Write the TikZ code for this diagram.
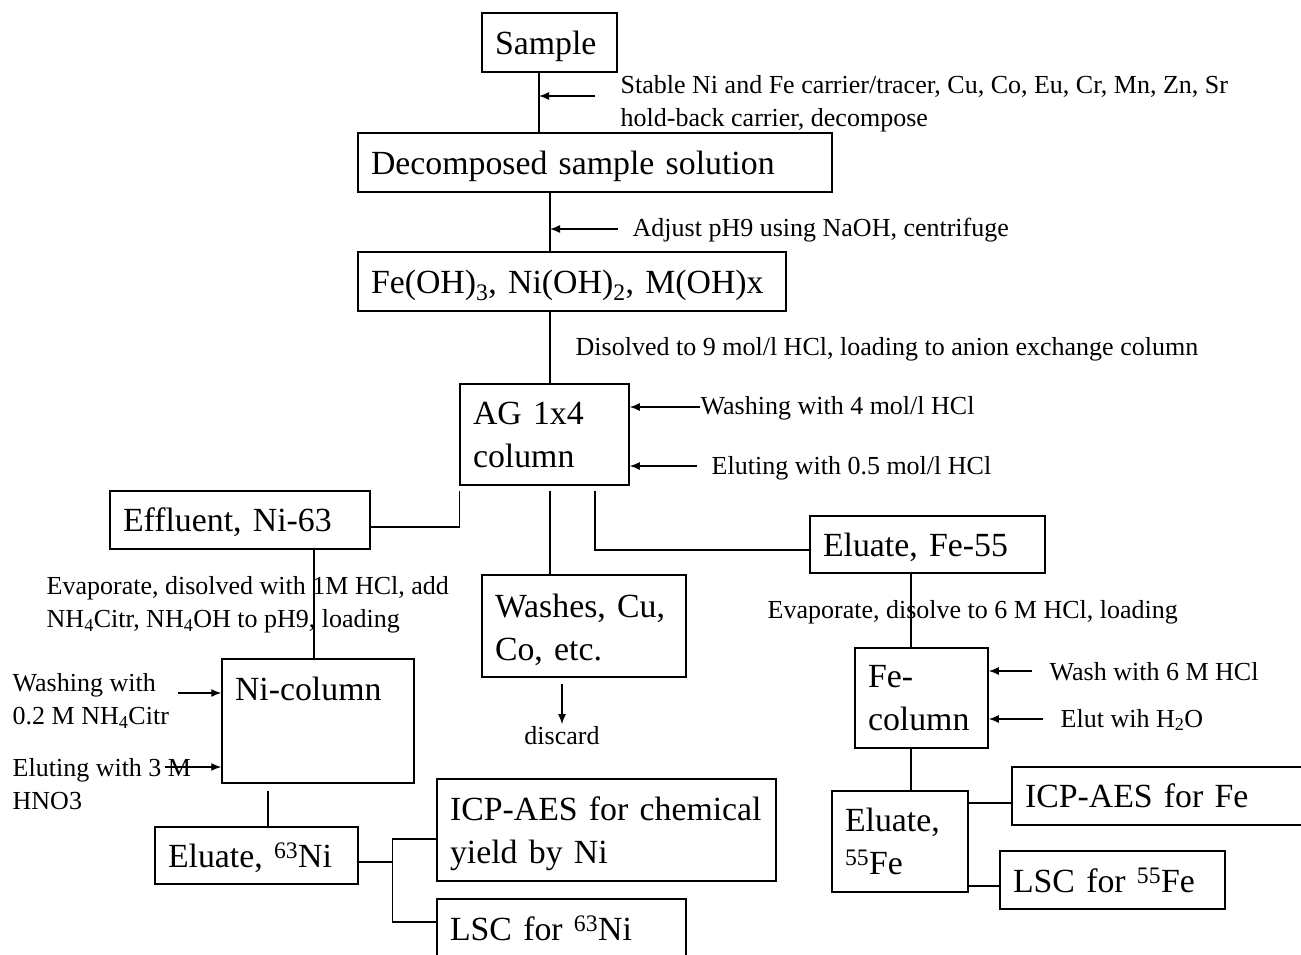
\documentclass[tikz,border=0pt]{standalone}
\usepackage{fontspec}
\setmainfont{Liberation Serif}
\usetikzlibrary{arrows.meta}
\newcommand\boxfont{\fontsize{33.8}{43}\selectfont}
\newcommand\notefont{\fontsize{26}{33}\selectfont}
\tikzset{
  box/.style={draw, line width=1.5pt, font=\boxfont, align=left, inner xsep=13pt, inner ysep=4pt},
  single/.style={text height=30.4pt, text depth=6.8pt},
  note/.style={font=\notefont, align=left, inner sep=0pt, anchor=west},
}
\begin{document}
\begin{tikzpicture}[x=1pt,y=-1pt,line width=1.4pt,>={Latex[length=10pt,width=8pt]}]
    \useasboundingbox (0,0) rectangle (1301,955);
    \clip (0,0) rectangle (1301,955);
    % main line
    \node[box, single, text width=109pt, minimum height=59pt] (sample) at (549.5,42.5) {Sample};
    \node[box, single, text width=448pt, minimum height=59pt] (decomp) at (595,162.5) {Decomposed sample solution};
    \node[box, single, text width=402pt, minimum height=59pt] (hydrox) at (572,281.5) {Fe(OH)\textsubscript{3}, Ni(OH)\textsubscript{2}, M(OH)x};
    \node[box, text width=143pt, minimum height=101pt] (ag) at (544.5,434.5) {AG 1x4\\column};
    \node[box, single, text width=234pt, minimum height=58pt] (effluent) at (240,520) {Effluent, Ni-63};
    \node[box, text width=178pt, minimum height=102pt, text depth=40pt] (washes) at (584,626) {Washes, Cu,\\Co, etc.};
    \node[box, single, text width=209pt, minimum height=57pt] (eluatefe) at (927.5,544.5) {Eluate, Fe-55};
    % Ni branch
    \node[box, text width=166pt, minimum height=124pt, text depth=65pt] (nicol) at (318,721) {Ni-column};
    \node[box, single, text width=177pt, minimum height=57pt] (elni) at (256.5,855.5) {Eluate, \textsuperscript{63}Ni};
    \node[box, text width=313pt, minimum height=102pt, text depth=42pt] (icpni) at (606.5,830) {ICP-AES for chemical\\yield by Ni};
    \node[box, text width=223pt, minimum height=59pt] (lscni) at (561.5,928.5) {LSC for \textsuperscript{63}Ni};
    % Fe branch
    \node[box, text width=107pt, minimum height=100pt] (fecol) at (921.5,698) {Fe-\\column};
    \node[box, text width=110pt, minimum height=101pt] (elfe) at (900,841.5) {Eluate,\\\textsuperscript{55}Fe};
    \node[box, text width=282pt, minimum height=58pt] (icpfe) at (1166,796) {ICP-AES for Fe};
    \node[box, text width=199pt, minimum height=58pt] (lscfe) at (1112.5,880) {LSC for \textsuperscript{55}Fe};
    % notes
    \node[note] (n1) at (620,104) {Stable Ni and Fe carrier/tracer, Cu, Co, Eu, Cr, Mn, Zn, Sr\\hold-back carrier, decompose};
    \node[note] (n2) at (632,230) {Adjust pH9 using NaOH, centrifuge};
    \node[note] (n3) at (575,349) {Disolved to 9 mol/l HCl, loading to anion exchange column};
    \node[note] (n4) at (700,408) {Washing with 4 mol/l HCl};
    \node[note] (n5) at (711,468) {Eluting with 0.5 mol/l HCl};
    \node[note] (n6) at (46,605) {Evaporate, disolved with 1M HCl, add\\NH\textsubscript{4}Citr, NH\textsubscript{4}OH to pH9, loading};
    \node[note] (n7) at (12,701) {Washing with\\0.2 M NH\textsubscript{4}Citr};
    \node[note] (n8) at (12,784) {Eluting with 3 M\\HNO3};
    \node[note, anchor=center] (discard) at (562,736) {discard};
    \node[note] (n10) at (767,612) {Evaporate, disolve to 6 M HCl, loading};
    \node[note] (n11) at (1049,672) {Wash with 6 M HCl};
    \node[note] (n12) at (1060,720) {Elut wih H\textsubscript{2}O};
    % arrow tails
    \coordinate (s1) at (595,96);
    \coordinate (s2) at (618,229);
    \coordinate (s4) at (700,407);
    \coordinate (s5) at (697,466);
    \coordinate (s7) at (178,693);
    \coordinate (s8) at (165,767);
    \coordinate (s11) at (1032,671);
    \coordinate (s12) at (1043,719);
    % connectors
    \draw ([xshift=-10.5pt]sample.south) coordinate (t1) -- (t1 |- decomp.north);
    \draw[->] (s1) -- (s1 -| t1);
    \draw ([xshift=-45pt]decomp.south) coordinate (t2) -- (t2 |- hydrox.north);
    \draw[->] (s2) -- (s2 -| t2);
    \draw ([xshift=-22pt]hydrox.south) coordinate (t3) -- (t3 |- ag.north);
    \draw[->] (s4) -- (s4 -| ag.east);
    \draw[->] (s5) -- (s5 -| ag.east);
    \draw ([yshift=-5pt]ag.south west) |- ([yshift=-7pt]effluent.east);
    \draw ([xshift=5.5pt,yshift=-5pt]ag.south) coordinate (t5) -- (t5 |- washes.north);
    \draw ([xshift=50.5pt,yshift=-5pt]ag.south) |- ([yshift=-5.5pt]eluatefe.west);
    \draw[->] ([xshift=-22pt,yshift=-6pt]washes.south) -- ([yshift=2pt]discard.north);
    \draw ([xshift=74pt]effluent.south) coordinate (t7) -- (t7 |- nicol.north);
    \draw[->] (s7) -- (s7 -| nicol.west);
    \draw[->] (s8) -- (s8 -| nicol.west);
    \draw ([xshift=-50pt,yshift=-7pt]nicol.south) coordinate (t8) -- (t8 |- elni.north);
    \draw ([yshift=-6.5pt]elni.east) -- ++(34,0) coordinate (b1);
    \draw ([yshift=-9pt]icpni.west) -| (b1) |- ([yshift=6.5pt]lscni.west);
    \draw ([xshift=-16.5pt]eluatefe.south) coordinate (t10) -- (t10 |- fecol.north);
    \draw[->] (s11) -- (s11 -| fecol.east);
    \draw[->] (s12) -- (s12 -| fecol.east);
    \draw ([xshift=-10.5pt]fecol.south) coordinate (t11) -- (t11 |- elfe.north);
    \draw ([yshift=38.5pt]elfe.east) coordinate (e1) -- (e1 -| icpfe.west);
    \draw ([yshift=-44.5pt]elfe.east) coordinate (e2) -- (e2 -| lscfe.west);
\end{tikzpicture}
\end{document}
